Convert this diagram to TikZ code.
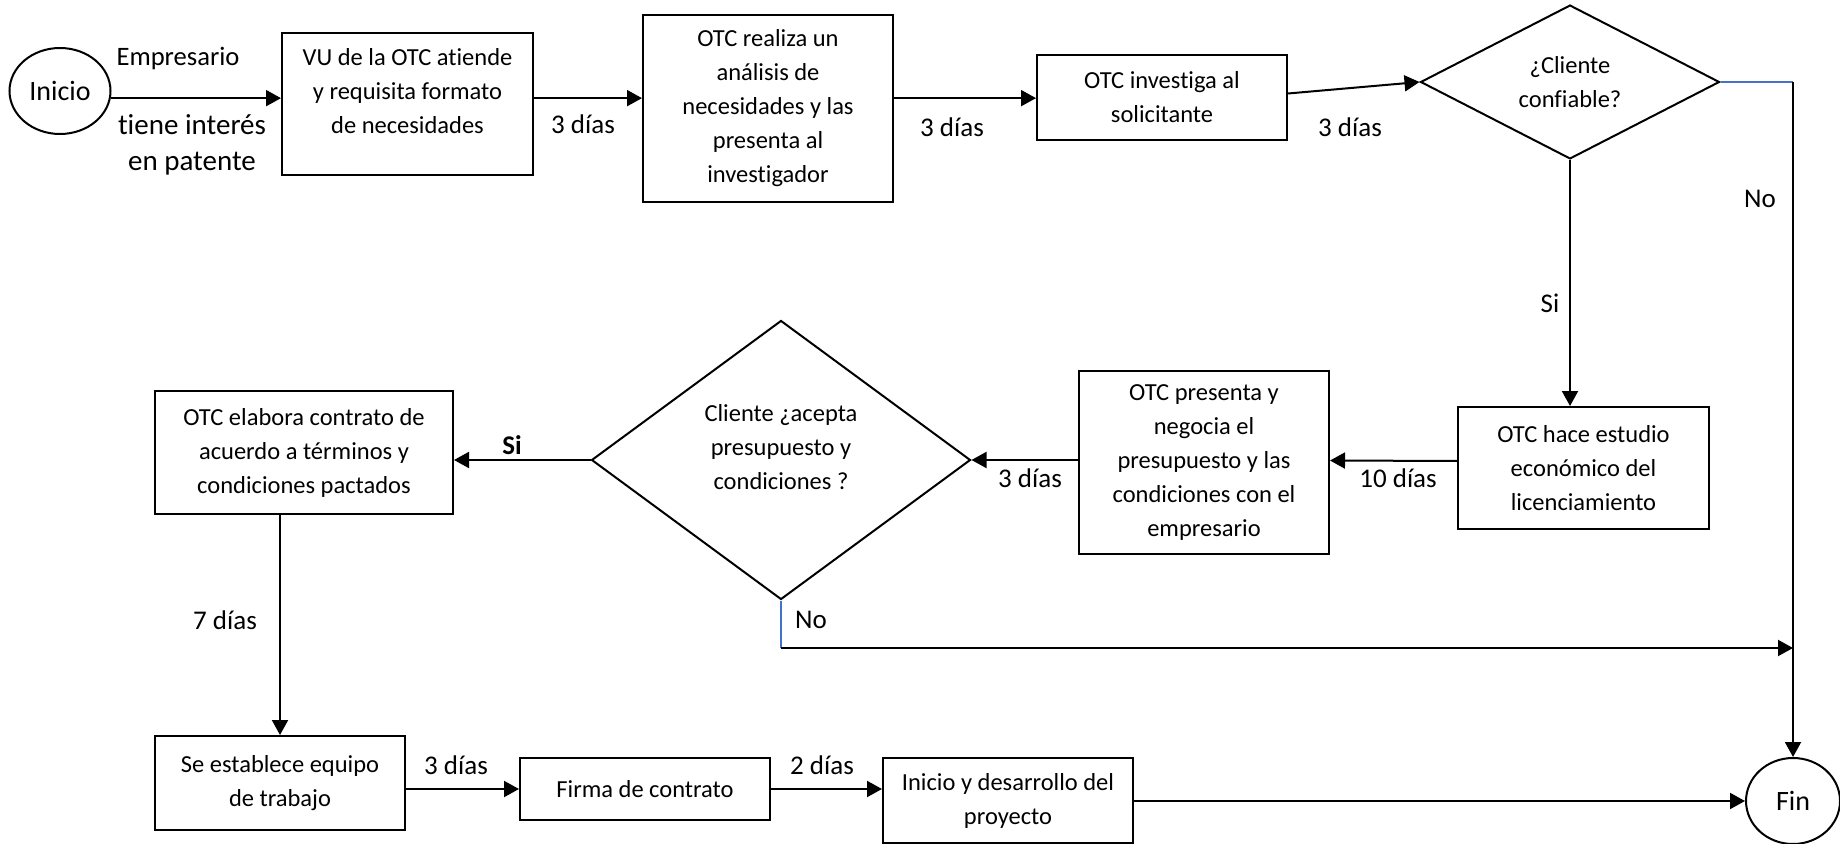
\documentclass[tikz,border=0pt]{standalone}
\usepackage{fontspec}
\setmainfont{Carlito}[Ligatures=NoCommon]
\usetikzlibrary{shapes.geometric,arrows.meta,calc}
\definecolor{officeblue}{RGB}{68,114,196}
\tikzset{
  box/.style={draw, line width=1pt, rectangle, inner sep=0pt, align=center, font=\fontsize{12.25}{17}\selectfont},
  dec/.style={draw, line width=1pt, diamond, inner sep=0pt, align=center, font=\fontsize{12.25}{17}\selectfont},
  term/.style={draw, line width=1pt, ellipse, inner sep=0pt, font=\fontsize{14}{17}\selectfont},
  lbl/.style={inner sep=0pt, align=center, font=\fontsize{13.5}{18}\selectfont},
  arr/.style={-{Triangle[length=7.5pt,width=8pt]}, line width=1pt},
  bline/.style={line width=1pt, officeblue}
}
\begin{document}
\begin{tikzpicture}[x=0.5pt,y=-0.5pt]
\useasboundingbox (0,0) rectangle (1840,844);
% nodes
\node[term, minimum width=101*0.5pt, minimum height=86*0.5pt] (ini) at (60,91) {Inicio};
\node[box, minimum width=251*0.5pt, minimum height=142*0.5pt] (vu) at (407.5,104) {VU de la OTC atiende\\y requisita formato\\de necesidades\\[-4pt]\rule{0pt}{0pt}};
\node[box, minimum width=250*0.5pt, minimum height=187*0.5pt] (b2) at (768,108.5) {OTC realiza un\\análisis de\\necesidades y las\\presenta al\\investigador};
\node[box, minimum width=250*0.5pt, minimum height=85*0.5pt] (b3) at (1162,97.5) {OTC investiga al\\solicitante};
\node[dec, minimum width=299*0.5pt, minimum height=150*0.5pt] (d1) at (1570,82) {¿Cliente\\confiable?};
\node[box, minimum width=251*0.5pt, minimum height=122*0.5pt] (est) at (1583.5,468) {OTC hace estudio\\económico del\\licenciamiento};
\node[box, minimum width=250*0.5pt, minimum height=183*0.5pt] (pres) at (1204,462.5) {OTC presenta y\\negocia el\\presupuesto y las\\condiciones con el\\empresario};
\node[dec, minimum width=379*0.5pt, minimum height=279*0.5pt] (d2) at (781,460) {Cliente ¿acepta\\presupuesto y\\condiciones ?\\[-4pt]\rule{0pt}{0pt}};
\node[box, minimum width=298*0.5pt, minimum height=123*0.5pt] (elab) at (304,452.5) {OTC elabora contrato de\\acuerdo a términos y\\condiciones pactados};
\node[box, minimum width=250*0.5pt, minimum height=94*0.5pt] (se) at (280,783) {Se establece equipo\\de trabajo};
\node[box, minimum width=250*0.5pt, minimum height=62*0.5pt] (firma) at (645,789) {Firma de contrato};
\node[box, minimum width=250*0.5pt, minimum height=85*0.5pt] (des) at (1008,800.5) {Inicio y desarrollo del\\proyecto};
\node[term, minimum width=94*0.5pt, minimum height=86*0.5pt] (fin) at (1793,801) {Fin};
\coordinate (nobend) at (781,648);
\coordinate (nojoin) at (1793,648);
% connectors
\draw[arr] (ini.-8) -- (vu.west |- ini.-8);
\draw[arr] (vu.east |- ini.-8) -- (b2.west |- ini.-8);
\draw[arr] (b2.east |- ini.-8) -- (b3.west |- ini.-8);
\draw[arr] ($(b3.east)+(0,-4)$) -- (d1.west);
\draw[bline] (d1.east) -- (d1.east -| fin.north);
\draw[arr] (d1.east -| fin.north) -- (fin.north);
\draw[arr] (d1.south) -- (d1.south |- est.north);
\draw[arr] ($(est.west)+(0,-7)$) -- ($(pres.east)+(0,-2)$);
\draw[arr] (d2.east -| pres.west) -- (d2.east);
\draw[arr] (d2.west) -- (d2.west -| elab.east);
\draw[bline] (d2.south) -- (nobend);
\draw[arr] (nobend) -- (nojoin);
\draw[arr] (se.north |- elab.south) -- (se.north);
\draw[arr] (se.east |- firma.west) -- (firma.west);
\draw[arr] (firma.east) -- (firma.east -| des.west);
\draw[arr] (des.east |- fin.west) -- (fin.west);
% labels
\node[lbl, font=\fontsize{13.3}{17}\selectfont] (l1) at (178,58) {Empresario};
\node[lbl, font=\fontsize{14.5}{18}\selectfont] (l2) at (192,145) {tiene interés\\en patente};
\node[lbl] (l3) at (583,124) {3 días};
\node[lbl] (l4) at (952,127) {3 días};
\node[lbl] (l5) at (1350,127) {3 días};
\node[lbl] (l6) at (1760,199) {No};
\node[lbl] (l7) at (1550,303) {Si};
\node[lbl] (l8) at (1398,478) {10 días};
\node[lbl] (l9) at (1030,478) {3 días};
\node[lbl, font=\bfseries\fontsize{13.5}{18}\selectfont] (l10) at (512,445) {Si};
\node[lbl] (l11) at (811,620) {No};
\node[lbl] (l12) at (225,620) {7 días};
\node[lbl] (l13) at (456,765) {3 días};
\node[lbl] (l14) at (822,765) {2 días};
\end{tikzpicture}
\end{document}
